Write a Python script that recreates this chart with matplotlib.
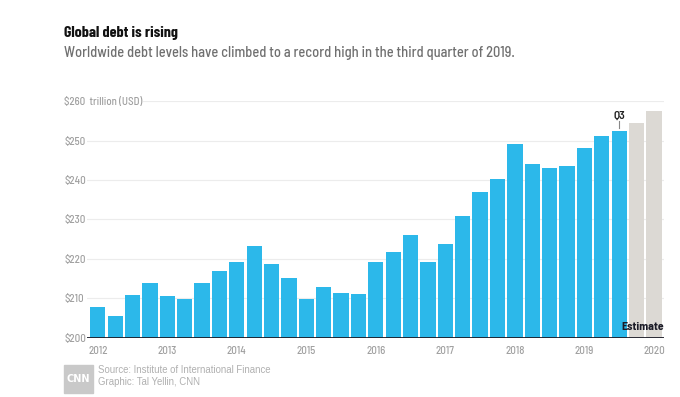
import matplotlib
matplotlib.use("Agg")
import matplotlib.pyplot as plt
from matplotlib.patches import Rectangle

# quarterly global debt, trillion USD (2012 Q1 .. 2019 Q3), then estimates
years = ["2012", "2013", "2014", "2015", "2016", "2017", "2018", "2019", "2020"]
actual = [207.9, 205.6, 210.8, 214.0,
          210.6, 209.9, 214.0, 216.9,
          219.1, 223.2, 218.7, 215.2,
          209.7, 212.9, 211.3, 211.0,
          219.2, 221.7, 226.0, 219.2,
          223.8, 230.8, 237.0, 240.3,
          249.2, 244.0, 243.0, 243.6,
          248.2, 251.1, 252.5]
estimate = [254.6, 257.6]
yticks = [200, 210, 220, 230, 240, 250, 260]
ytick_labels = ["$200", "$210", "$220", "$230", "$240", "$250", "$260  trillion (USD)"]

BLUE = "#2cb8ea"
GREY = "#dcd9d4"
SEMI = ["Barlow Semi Condensed", "DejaVu Sans"]
COND = ["Barlow Condensed", "DejaVu Sans"]

fig = plt.figure(figsize=(6.8, 3.97), dpi=100)
ax = fig.add_axes([87/680, 1 - 337.7/397, (664-87)/680, (337.7-101.3)/397])

n = len(actual)
ax.bar(range(n), [v - 200 for v in actual], bottom=200, width=0.88, color=BLUE, zorder=2)
ax.bar(range(n, n + len(estimate)), [v - 200 for v in estimate], bottom=200,
       width=0.88, color=GREY, zorder=2)

ax.set_xlim(-0.62, n + len(estimate) - 1 + 0.58)
ax.set_ylim(200, 260)
for s in ax.spines.values():
    s.set_visible(False)
ax.axhline(200, color="#1c1c28", lw=1.3, zorder=3)
for y in yticks[1:-1]:
    ax.axhline(y, color="#ececec", lw=0.8, zorder=1)
ax.axhline(260, xmin=0.097, color="#ececec", lw=0.8, zorder=1)

ax.set_yticks(yticks)
ax.set_yticklabels(ytick_labels, family=SEMI, fontweight="medium")
ax.tick_params(axis="y", length=0, pad=16.5, labelsize=7.8, labelcolor="#a0a0a0")
for t in ax.get_yticklabels():
    t.set_ha("left")
ax.set_xticks(range(0, n + len(estimate), 4))
ax.set_xticklabels(years, family=SEMI, fontweight="medium")
ax.tick_params(axis="x", length=0, pad=6, labelsize=7.8, labelcolor="#a0a0a0")

# Q3 marker above last actual bar
ax.plot([n - 1, n - 1], [actual[-1] + 0.8, actual[-1] + 2.5], color="#888888", lw=0.8)
ax.text(n - 1, actual[-1] + 2.6, "Q3", ha="center", va="bottom", fontsize=8.5,
        fontweight="semibold", color="#222222", family=SEMI)
ax.text(1.0, 202.8, "Estimate", transform=ax.get_yaxis_transform(), ha="right",
        va="center", fontsize=8.5, fontweight="bold", color="#1c1c28", zorder=4,
        family=SEMI)

fig.text(64/680, 1 - 33/397, "Global debt is rising", fontsize=11.5,
         fontweight="bold", color="#111111", va="center", family=COND)
fig.text(64/680, 1 - 53/397,
         "Worldwide debt levels have climbed to a record high in the third quarter of 2019.",
         fontsize=10.4, fontweight="medium", color="#707070", va="center", family=SEMI)

fig.patches.append(Rectangle((64/680, 1 - 393/397), 29/680, 28/397,
                             transform=fig.transFigure, color="#c9c9c9"))
fig.text(78.5/680, 1 - 379/397, "CNN", fontsize=7, fontweight="bold",
         color="white", ha="center", va="center")
fig.text(98/680, 1 - 370/397, "Source: Institute of International Finance",
         fontsize=6.9, color="#b0b0b0", va="center", family="Liberation Sans")
fig.text(98/680, 1 - 382/397, "Graphic: Tal Yellin, CNN",
         fontsize=6.9, color="#b0b0b0", va="center", family="Liberation Sans")

fig.savefig("out.png", dpi=100)
